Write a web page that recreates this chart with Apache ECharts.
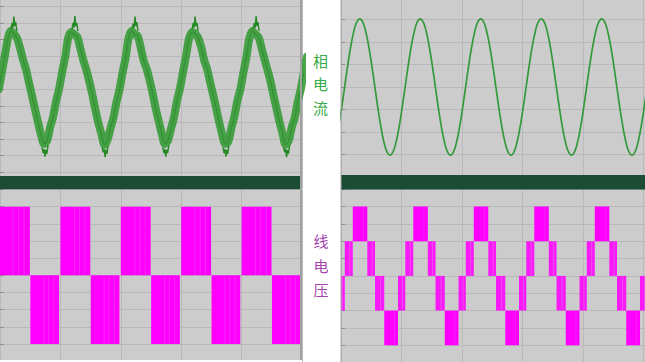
<!DOCTYPE html>
<html><head><meta charset="utf-8">
<script src="https://cdn.jsdelivr.net/npm/echarts/dist/echarts.min.js"></script>
<style>html,body{margin:0;padding:0;background:#fff;}#c{width:645px;height:362px;}</style>
</head><body><div id="c"></div>
<script>
// ---- sampling grids (ms) ----
const curLeftT0 = -0.4, curLeftDT = 1;
const curRightT0 = -0.8, curRightDT = 1;

// ---- phase current, left panel (divisions) ----
const currentLeft = [
  0, 1.0, 2.0, 3.05, 3.5, 3.35, 3.1, 2.5, 1.8, 1.2, 0.4, -0.4, -1.2, -2.0, -2.75, -3.3, -3.1, -2.3, -1.65, -0.7,
  0.05, 1.05, 1.95, 3.1, 3.45, 3.3, 3.15, 2.45, 1.75, 1.15, 0.45, -0.35, -1.25, -2.05, -2.7, -3.35, -3.05, -2.35, -1.7, -0.75,
  0, 1.0, 1.9, 3.1, 3.5, 3.3, 3.2, 2.5, 1.7, 1.2, 0.5, -0.3, -1.2, -1.95, -2.7, -3.3, -3.1, -2.4, -1.7, -0.7,
  0.05, 1.05, 2.0, 3.05, 3.45, 3.35, 3.1, 2.55, 1.75, 1.2, 0.4, -0.35, -1.15, -2.0, -2.75, -3.3, -3.15, -2.35, -1.65, -0.7,
  0, 1.0, 1.95, 3.1, 3.5, 3.3, 3.15, 2.5, 1.8, 1.15, 0.45, -0.4, -1.2, -2.0, -2.7, -3.35, -3.1, -2.3, -1.7, -0.75,
  0, 1.0, 1.95
];
// ripple spikes at peaks / troughs [ms, divisions]
const currentLeftSpikes = [
  [3.6,3.6],[4.0,4.0],[4.3,3.7],[4.6,4.37],[4.9,3.8],[5.2,4.05],[5.6,3.5],[5.7,'-'],
  [23.8,3.6],[24.2,4.0],[24.5,3.7],[24.8,4.4],[25.1,3.8],[25.4,4.0],[25.8,3.5],[25.9,'-'],
  [43.7,3.6],[44.1,3.95],[44.4,3.7],[44.7,4.37],[45.0,3.8],[45.3,4.05],[45.7,3.5],[45.8,'-'],
  [63.6,3.6],[64.0,4.0],[64.3,3.7],[64.6,4.37],[64.9,3.8],[65.2,4.0],[65.6,3.5],[65.7,'-'],
  [83.8,3.6],[84.2,4.0],[84.5,3.7],[84.8,4.4],[85.1,3.8],[85.4,4.05],[85.8,3.5],[85.9,'-'],
  [13.9,-3.5],[14.3,-3.85],[14.6,-3.6],[14.9,-4.07],[15.2,-3.65],[15.5,-3.9],[15.9,-3.4],[16.0,'-'],
  [33.8,-3.5],[34.2,-3.8],[34.5,-3.6],[34.8,-4.1],[35.1,-3.65],[35.4,-3.9],[35.8,-3.4],[35.9,'-'],
  [53.9,-3.5],[54.3,-3.85],[54.6,-3.6],[54.9,-4.07],[55.2,-3.65],[55.5,-3.85],[55.9,-3.4],[56.0,'-'],
  [73.8,-3.5],[74.2,-3.85],[74.5,-3.6],[74.8,-4.07],[75.1,-3.65],[75.4,-3.9],[75.8,-3.4],[75.9,'-'],
  [93.9,-3.5],[94.3,-3.8],[94.6,-3.6],[94.9,-4.1],[95.2,-3.65],[95.5,-3.9],[95.9,-3.4]
];

// ---- phase current, right panel (divisions) ----
const currentRight = [
  -1.78, -0.94,
  0, 0.94, 1.78, 2.45, 2.88, 3.03, 2.88, 2.45, 1.78, 0.94, 0, -0.94, -1.78, -2.45, -2.88, -3.03, -2.88, -2.45, -1.78, -0.94,
  0, 0.94, 1.78, 2.45, 2.88, 3.03, 2.88, 2.45, 1.78, 0.94, 0, -0.94, -1.78, -2.45, -2.88, -3.03, -2.88, -2.45, -1.78, -0.94,
  0, 0.94, 1.78, 2.45, 2.88, 3.03, 2.88, 2.45, 1.78, 0.94, 0, -0.94, -1.78, -2.45, -2.88, -3.03, -2.88, -2.45, -1.78, -0.94,
  0, 0.94, 1.78, 2.45, 2.88, 3.03, 2.88, 2.45, 1.78, 0.94, 0, -0.94, -1.78, -2.45, -2.88, -3.03, -2.88, -2.45, -1.78, -0.94,
  0, 0.94, 1.78, 2.45, 2.88, 3.03, 2.88, 2.45, 1.78, 0.94, 0, -0.94, -1.78, -2.45, -2.88, -3.03, -2.88, -2.45, -1.78, -0.94,
  0
];

// ---- line voltage, left panel: [t start ms, t end ms, low, high] ----
const voltLeft = [
  [-0.5, 9.9, 0, 4], [10.05, 19.55, -4, 0],
  [20.0, 29.9, 0, 4], [30.05, 39.55, -4, 0],
  [40.0, 49.9, 0, 4], [50.05, 59.55, -4, 0],
  [60.0, 69.9, 0, 4], [70.05, 79.55, -4, 0],
  [80.0, 89.9, 0, 4], [90.05, 99.55, -4, 0]
];

// ---- line voltage, right panel ----
// outer levels (switching between 2 and 4)
const voltRightOuter = [
  [3.9, 8.7, 2, 4], [14.3, 18.85, -4, -2],
  [23.9, 28.7, 2, 4], [34.3, 38.85, -4, -2],
  [43.9, 48.7, 2, 4], [54.3, 58.85, -4, -2],
  [63.9, 68.7, 2, 4], [74.3, 78.85, -4, -2],
  [83.9, 88.7, 2, 4], [94.3, 98.85, -4, -2]
];
// inner levels (switching between 0 and 2)
const voltRightInner = [
  [-0.8, 1.25, -2, 0],
  [1.25, 3.9, 0, 2], [8.7, 11.25, 0, 2], [11.25, 14.3, -2, 0], [18.85, 21.25, -2, 0],
  [21.25, 23.9, 0, 2], [28.7, 31.25, 0, 2], [31.25, 34.3, -2, 0], [38.85, 41.25, -2, 0],
  [41.25, 43.9, 0, 2], [48.7, 51.25, 0, 2], [51.25, 54.3, -2, 0], [58.85, 61.25, -2, 0],
  [61.25, 63.9, 0, 2], [68.7, 71.25, 0, 2], [71.25, 74.3, -2, 0], [78.85, 81.25, -2, 0],
  [81.25, 83.9, 0, 2], [88.7, 91.25, 0, 2], [91.25, 94.3, -2, 0], [98.85, 101.25, -2, 0]
];

const labelCurrent = ['相', '电', '流'];
const labelVoltage = ['线', '电', '压'];

// ---------------- build ----------------
const curLeftData = currentLeft.map((v, i) => [curLeftT0 + i * curLeftDT, v]);
const curRightData = currentRight.map((v, i) => [curRightT0 + i * curRightDT, v]);

const GRID_LINE = '#b9b9b9';
const TICK = '#8e8e8e';
const FONT = '"Noto Sans CJK SC", "Noto Sans", sans-serif';

function xAx(gi, max) {
  return { gridIndex: gi, type: 'value', min: 0, max: max, interval: 20,
    axisLine: { show: false }, axisTick: { show: false }, axisLabel: { show: false },
    splitLine: { show: true, lineStyle: { color: GRID_LINE, width: 1 } } };
}
function yAx(gi, min, max) {
  return { gridIndex: gi, type: 'value', min: min, max: max, interval: 1,
    axisLine: { show: false }, axisLabel: { show: false },
    axisTick: { show: true, inside: true, length: 4, lineStyle: { color: TICK } },
    splitLine: { show: true, lineStyle: { color: GRID_LINE, width: 1 } } };
}
function blockRenderer(fill, stripe, fracs) {
  return function (params, api) {
    const a = api.coord([api.value(0), api.value(3)]);
    const b = api.coord([api.value(1), api.value(2)]);
    const w = b[0] - a[0], h = b[1] - a[1];
    const children = [{ type: 'rect', shape: { x: a[0], y: a[1], width: w, height: h }, style: { fill: fill } }];
    fracs.forEach(f => {
      children.push({ type: 'rect', shape: { x: a[0] + w * f, y: a[1], width: 1, height: h }, style: { fill: stripe } });
    });
    return { type: 'group', children: children };
  };
}

const chart = echarts.init(document.getElementById('c'), null, { renderer: 'svg', width: 645, height: 362 });

const txt = (ch, x, y, color) => ({ type: 'text', z: 60, x: x, y: y,
  style: { text: ch, fill: color, font: '15px ' + FONT, textAlign: 'center', textVerticalAlign: 'middle', verticalAlign: 'middle' } });

chart.setOption({
  animation: false,
  backgroundColor: '#ffffff',
  grid: [
    { left: 0, top: -10.4, width: 302, height: 199.2, outerBoundsMode: 'none', containLabel: false },
    { left: 341, top: -3, width: 304, height: 180, outerBoundsMode: 'none', containLabel: false },
    { left: 0, top: 189.56, width: 302, height: 188.76, outerBoundsMode: 'none', containLabel: false },
    { left: 341, top: 189.2, width: 304, height: 190.74, outerBoundsMode: 'none', containLabel: false }
  ],
  xAxis: [xAx(0, 100), xAx(1, 100.5), xAx(2, 100), xAx(3, 100.5)],
  yAxis: [yAx(0, -6, 6), yAx(1, -4, 4), yAx(2, -6, 5), yAx(3, -6, 5)],
  graphic: [
    { type: 'rect', z: -10, shape: { x: 0, y: 0, width: 302, height: 176 }, style: { fill: '#cccccc' } },
    { type: 'rect', z: -10, shape: { x: 0, y: 189, width: 302, height: 171 }, style: { fill: '#cccccc' } },
    { type: 'rect', z: -10, shape: { x: 341, y: 0, width: 304, height: 175 }, style: { fill: '#cccccc' } },
    { type: 'rect', z: -10, shape: { x: 341, y: 189, width: 304, height: 173 }, style: { fill: '#cccccc' } },
    { type: 'rect', z: 50, shape: { x: 0, y: 176, width: 302, height: 13.3 }, style: { fill: '#1c4d34' } },
    { type: 'rect', z: 50, shape: { x: 341, y: 175, width: 304, height: 14.5 }, style: { fill: '#1c4d34' } },
    { type: 'rect', z: 50, shape: { x: 0, y: 360, width: 302, height: 2 }, style: { fill: '#ffffff' } },
    { type: 'rect', z: 51, shape: { x: 300, y: 0, width: 2, height: 360 }, style: { fill: '#a2a2a2' } },
    { type: 'rect', z: 51, shape: { x: 340.5, y: 0, width: 1, height: 362 }, style: { fill: '#a8a8a8' } },
    txt(labelCurrent[0], 320.5, 60.3, '#39ab48'),
    txt(labelCurrent[1], 320.5, 83.5, '#39ab48'),
    txt(labelCurrent[2], 320.5, 107, '#39ab48'),
    txt(labelVoltage[0], 321, 240, '#a446ae'),
    txt(labelVoltage[1], 321, 265.3, '#a446ae'),
    txt(labelVoltage[2], 321, 289, '#a446ae')
  ],
  series: [
    { type: 'line', xAxisIndex: 0, yAxisIndex: 0, data: curLeftData, smooth: 0.3, showSymbol: false, symbol: 'none', z: 3,
      lineStyle: { color: '#339a33', width: 8, opacity: 0.88, cap: 'round', join: 'round' } },
    { type: 'line', xAxisIndex: 0, yAxisIndex: 0, data: curLeftData, smooth: 0.3, showSymbol: false, symbol: 'none', z: 4,
      lineStyle: { color: '#1a7f1a', width: 1.2, opacity: 0.45 } },
    { type: 'line', xAxisIndex: 0, yAxisIndex: 0, data: currentLeftSpikes, showSymbol: false, symbol: 'none', z: 4, connectNulls: false,
      lineStyle: { color: '#238a23', width: 1.4 } },
    { type: 'line', xAxisIndex: 1, yAxisIndex: 1, data: curRightData, smooth: true, showSymbol: false, symbol: 'none', z: 3,
      lineStyle: { color: '#34993a', width: 1.7 } },
    { type: 'custom', xAxisIndex: 2, yAxisIndex: 2, data: voltLeft, encode: { x: [0, 1], y: [2, 3] }, clip: true, z: 3,
      renderItem: blockRenderer('#ff00ff', 'rgba(240,70,240,0.55)', [0.45, 0.62, 0.8]) },
    { type: 'custom', xAxisIndex: 3, yAxisIndex: 3, data: voltRightOuter, encode: { x: [0, 1], y: [2, 3] }, clip: true, z: 3,
      renderItem: blockRenderer('#ff00ff', 'rgba(240,60,240,0.5)', [0.7]) },
    { type: 'custom', xAxisIndex: 3, yAxisIndex: 3, data: voltRightInner, encode: { x: [0, 1], y: [2, 3] }, clip: true, z: 3,
      renderItem: blockRenderer('rgba(255,0,255,0.88)', 'rgba(235,90,235,0.8)', [0.55]) }
  ]
});
</script></body></html>
